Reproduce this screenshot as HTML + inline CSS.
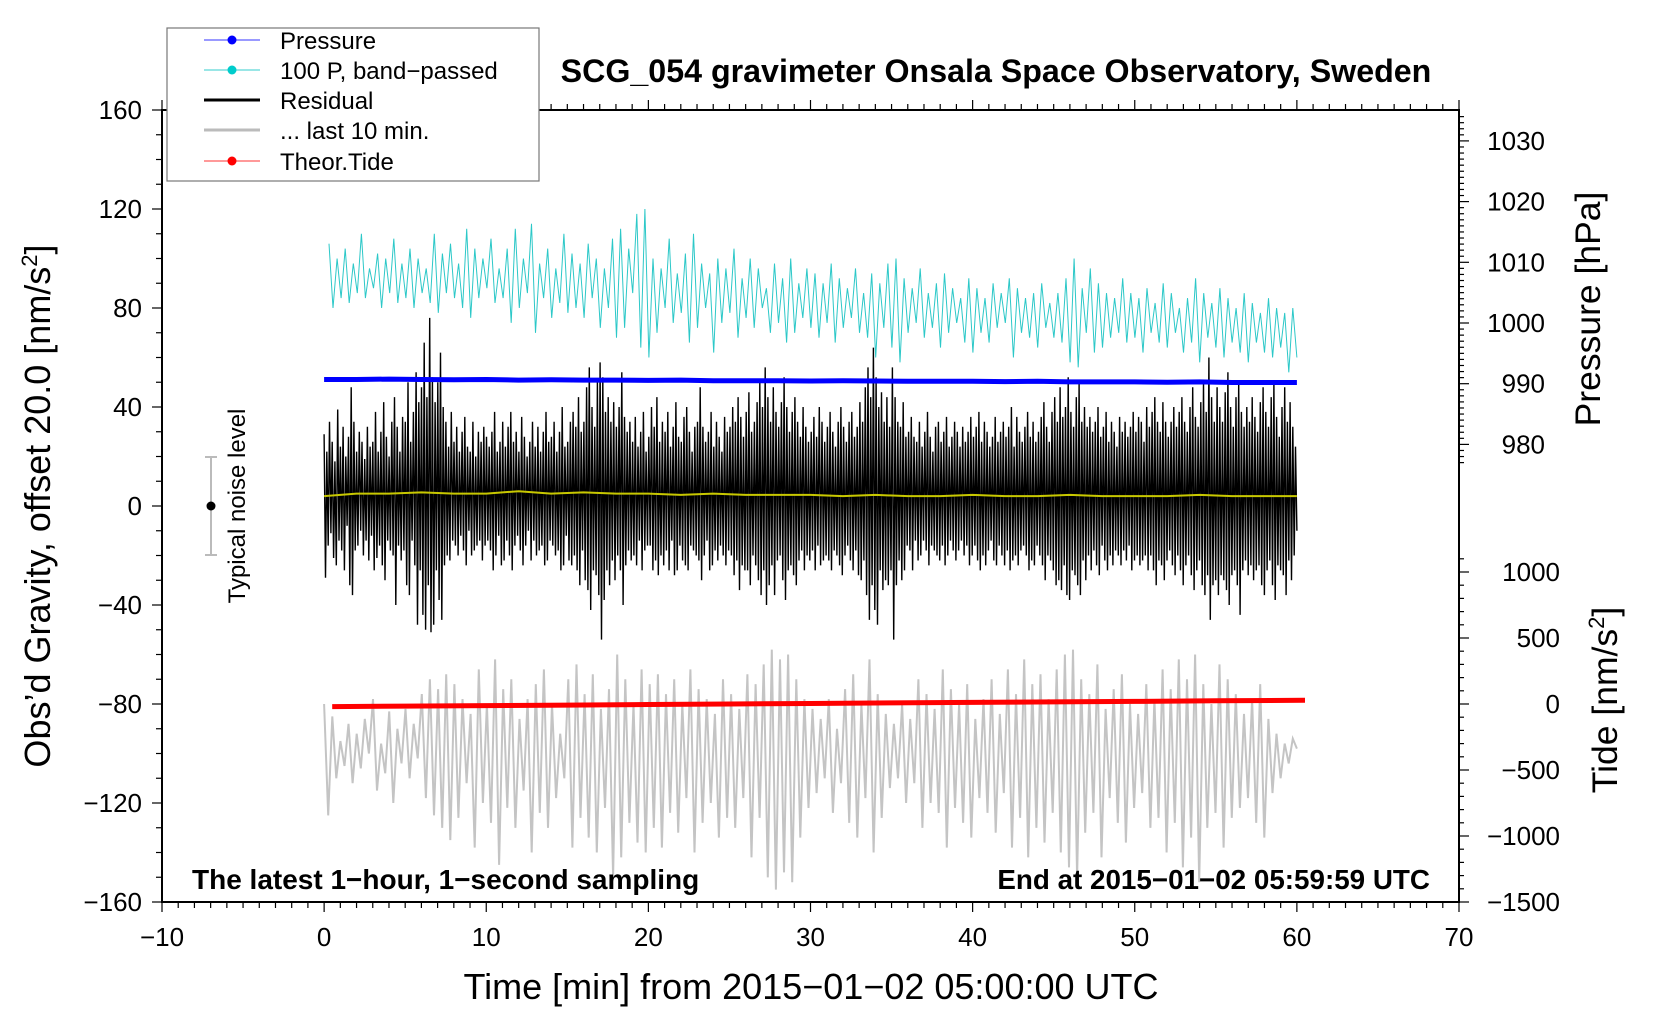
<!DOCTYPE html>
<html><head><meta charset="utf-8"><style>
html,body{margin:0;padding:0;background:#fff;}
svg{display:block;font-family:"Liberation Sans",sans-serif;}
</style></head><body>
<svg id="chart" width="1660" height="1020" viewBox="0 0 1660 1020" xmlns="http://www.w3.org/2000/svg">
<rect x="0" y="0" width="1660" height="1020" fill="#fff"/>
<g id="marks"></g>
<g id="axes"></g>
<text x="996" y="82" text-anchor="middle" font-size="32.2" font-weight="bold">SCG_054 gravimeter Onsala Space Observatory, Sweden</text>
<text x="811" y="999" text-anchor="middle" font-size="36">Time [min] from 2015−01−02 05:00:00 UTC</text>
<text transform="translate(50,506) rotate(-90)" text-anchor="middle" font-size="36">Obs’d Gravity, offset 20.0 [nm/s<tspan font-size="22" dy="-13">2</tspan><tspan dy="13">]</tspan></text>
<text transform="translate(1600,309) rotate(-90)" text-anchor="middle" font-size="35.5">Pressure [hPa]</text>
<text transform="translate(1617,700) rotate(-90)" text-anchor="middle" font-size="35.5">Tide [nm/s<tspan font-size="22" dy="-13">2</tspan><tspan dy="13">]</tspan></text>
<text x="192" y="889" font-size="28" font-weight="bold">The latest 1−hour, 1−second sampling</text>
<text x="1430" y="889" text-anchor="end" font-size="27.8" font-weight="bold">End at 2015−01−02 05:59:59 UTC</text>
<g>
<line x1="211" y1="457" x2="211" y2="555" stroke="#bbb" stroke-width="2"/>
<line x1="205" y1="457" x2="217" y2="457" stroke="#bbb" stroke-width="2"/>
<line x1="205" y1="555" x2="217" y2="555" stroke="#bbb" stroke-width="2"/>
<circle cx="211" cy="506" r="4.5" fill="#000"/>
<text transform="translate(245,506) rotate(-90)" text-anchor="middle" font-size="24">Typical noise level</text>
</g>
<g>
<rect x="167" y="28" width="372" height="153" fill="#fff" stroke="#777" stroke-width="1.2"/>
<g><line x1="204" y1="40" x2="260" y2="40" stroke="#33f" stroke-width="1"/><circle cx="232" cy="40" r="4.5" fill="#00f"/><text x="280" y="49" font-size="24">Pressure</text></g>
<g><line x1="204" y1="70" x2="260" y2="70" stroke="#3cc" stroke-width="1"/><circle cx="232" cy="70" r="4.5" fill="#0cc"/><text x="280" y="79" font-size="24">100 P, band−passed</text></g>
<g><line x1="204" y1="100" x2="260" y2="100" stroke="#000" stroke-width="3"/><text x="280" y="109" font-size="24">Residual</text></g>
<g><line x1="204" y1="130" x2="260" y2="130" stroke="#bbb" stroke-width="3"/><text x="280" y="139" font-size="24">... last 10 min.</text></g>
<g><line x1="204" y1="161" x2="260" y2="161" stroke="#f33" stroke-width="1"/><circle cx="232" cy="161" r="4.5" fill="#f00"/><text x="280" y="170" font-size="24">Theor.Tide</text></g>
</g>
</svg>
<script>
const xTicks=[-10,0,10,20,30,40,50,60,70];
const yTicks=[160,120,80,40,0,-40,-80,-120,-160];
const pressureTicks=[980,990,1000,1010,1020,1030];
const tideTicks=[-1500,-1000,-500,0,500,1000];
const residualOffset=4;
const residual=[
25,-33,18,-20,30,-15,22,-25,14,-28,35,-18,20,-22,28,-30,16,-12,24,-36,44,-40,30,-22,18,-20,26,-14,22,-24,15,-18,28,-26,20,-16,22,-30,34,-25,18,-20,26,-28,38,-34,24,-18,16,-22,30,-24,40,-44,28,-20,18,-26,32,-22,
30,-36,46,-40,22,-18,34,-28,50,-52,38,-30,44,-48,62,-54,40,-36,72,-55,48,-52,38,-30,46,-42,58,-50,36,-28,30,-24,20,-26,34,-18,22,-20,28,-24,18,-16,26,-22,32,-28,20,-14,18,-24,30,-22,16,-20,26,-18,22,-26,28,-20,
24,-18,20,-22,26,-30,34,-24,18,-16,22,-28,30,-26,20,-18,28,-24,34,-30,22,-20,26,-16,18,-22,32,-28,24,-20,16,-14,22,-26,30,-18,20,-24,28,-22,18,-20,26,-28,34,-26,22,-18,24,-20,30,-24,18,-22,26,-30,36,-28,20,-16,
22,-26,30,-28,34,-24,28,-30,40,-36,26,-22,30,-34,44,-38,52,-46,36,-30,28,-32,46,-40,54,-58,48,-42,34,-30,40,-36,30,-26,38,-34,28,-24,36,-30,50,-44,32,-28,26,-22,30,-26,22,-24,32,-28,20,-18,26,-30,34,-22,18,-20,
24,-20,36,-30,28,-26,40,-32,22,-24,30,-28,26,-22,34,-30,20,-18,28,-32,38,-30,24,-20,22,-26,32,-28,36,-30,26,-20,18,-22,28,-24,30,-26,44,-34,28,-24,22,-18,26,-30,34,-28,20,-22,30,-26,24,-20,18,-24,32,-28,26,-22,
28,-24,36,-32,30,-26,40,-38,32,-28,24,-30,34,-30,42,-36,26,-24,30,-28,38,-34,46,-40,36,-30,52,-44,40,-36,30,-28,44,-40,34,-26,28,-24,38,-34,48,-42,36,-30,26,-28,34,-32,40,-36,30,-26,24,-22,36,-30,28,-24,22,-26,
26,-22,32,-30,24,-20,36,-28,30,-26,22,-24,28,-26,34,-30,26,-22,20,-24,30,-28,36,-32,28,-24,22,-20,30,-26,34,-30,24,-22,28,-32,38,-34,30,-26,44,-40,52,-50,40,-36,60,-46,48,-52,36,-30,42,-38,30,-34,40,-36,28,-30,
52,-58,40,-36,30,-26,28,-34,38,-30,24,-20,26,-22,32,-30,24,-18,22,-26,30,-24,20,-18,26,-22,34,-28,24,-20,18,-22,28,-24,30,-26,22,-20,26,-28,32,-24,20,-18,24,-22,30,-26,26,-22,20,-18,28,-24,22,-20,26,-28,32,-24,
24,-20,28,-26,34,-30,22,-24,30,-28,26,-22,20,-18,24,-26,32,-28,22,-20,26,-24,30,-28,24,-22,28,-30,36,-26,20,-24,32,-28,26,-22,22,-20,28,-24,34,-30,24,-26,30,-28,22,-20,26,-24,32,-28,38,-34,28,-24,22,-26,34,-30,
40,-36,30,-34,44,-38,32,-28,36,-40,48,-42,34,-30,28,-32,40,-36,46,-40,30,-26,36,-34,28,-24,32,-30,26,-22,30,-28,36,-32,24,-20,28,-26,34,-30,22,-24,30,-28,26,-22,20,-24,32,-28,26,-22,30,-26,24,-20,28,-30,34,-26,
26,-24,32,-28,30,-26,22,-24,36,-30,28,-24,34,-30,40,-36,30,-26,26,-28,38,-34,30,-26,24,-22,30,-28,36,-32,28,-24,34,-30,40,-36,30,-28,26,-24,36,-32,44,-38,32,-30,28,-26,38,-36,46,-40,34,-32,56,-50,40,-36,30,-34,
44,-40,36,-32,30,-34,42,-38,50,-44,36,-32,28,-30,40,-36,46,-48,34,-30,28,-26,36,-32,30,-28,40,-34,32,-30,26,-28,38,-36,44,-40,34,-30,28,-26,40,-36,46,-42,32,-28,24,-30,36,-32,44,-40,30,-26,38,-34,28,-24,20,-14];
const runningMean=[4,5,5,5.5,5,5,6,5,5.5,5,5,4.5,5,4.5,4.5,4.5,4,4.5,4,4,4.5,4,4,4.5,4,4,4,4.5,4,4,4];
const bandPassed=[
106,80,100,84,104,82,98,86,110,84,96,88,102,80,100,86,108,82,98,84,
104,80,100,86,96,82,110,78,102,86,106,84,98,80,112,76,104,84,100,88,
108,82,96,84,104,74,112,80,100,86,114,70,98,84,104,76,96,82,110,78,
102,80,98,76,106,84,100,72,96,80,108,68,112,72,104,86,118,64,120,60,
100,70,96,80,108,74,94,78,102,66,110,72,98,80,94,62,100,74,96,78,
104,68,92,76,100,72,96,80,88,70,98,74,92,66,100,70,90,76,96,72,
94,68,90,74,98,66,92,72,88,76,96,70,86,68,94,60,90,72,98,64,
100,58,92,70,88,74,96,68,86,72,90,64,94,70,88,74,84,66,92,62,
88,70,84,66,90,72,86,74,92,60,88,70,84,68,86,64,90,72,82,68,
86,66,92,58,100,56,88,70,96,62,90,64,86,68,84,70,92,66,86,68,
84,62,88,70,82,66,90,64,86,70,80,62,84,66,92,58,86,68,82,64,
88,60,84,66,80,62,86,58,82,66,78,62,84,60,80,64,78,54,80,60];
const last10=[
-80,-125,-85,-110,-95,-105,-88,-112,-92,-106,-86,-100,-78,-115,-96,-108,-83,-120,-90,-104,
-82,-110,-88,-102,-76,-118,-70,-125,-74,-130,-68,-135,-72,-126,-78,-112,-84,-138,-66,-120,
-80,-128,-62,-145,-74,-122,-70,-130,-86,-115,-78,-140,-72,-124,-66,-130,-80,-118,-92,-110,
-70,-138,-64,-126,-76,-134,-68,-140,-82,-122,-74,-150,-60,-142,-70,-128,-80,-136,-66,-140,
-72,-130,-68,-138,-76,-124,-70,-132,-80,-118,-66,-140,-74,-128,-78,-120,-84,-134,-70,-126,
-76,-130,-82,-118,-68,-142,-72,-126,-64,-150,-58,-155,-62,-148,-60,-152,-70,-134,-78,-122,
-82,-116,-86,-110,-78,-124,-90,-112,-74,-128,-68,-134,-80,-118,-62,-140,-76,-126,-84,-114,
-88,-110,-80,-120,-86,-112,-70,-130,-76,-120,-82,-124,-66,-138,-74,-122,-80,-128,-72,-134,
-86,-118,-78,-124,-70,-132,-84,-116,-66,-138,-76,-126,-62,-142,-72,-130,-68,-136,-78,-124,
-66,-140,-60,-146,-58,-150,-70,-132,-76,-124,-64,-142,-82,-118,-74,-128,-68,-136,-80,-122,
-84,-116,-72,-130,-78,-126,-66,-140,-74,-128,-62,-146,-70,-134,-60,-152,-72,-130,-80,-124,
-64,-138,-70,-126,-76,-122,-84,-118,-78,-128,-72,-134,-86,-116,-92,-110,-96,-104,-94,-98];
const pressure=[990.7,990.7,990.75,990.7,990.65,990.7,990.6,990.65,990.6,990.6,990.55,990.6,990.5,990.5,990.5,990.45,990.5,990.45,990.4,990.4,990.4,990.35,990.4,990.3,990.3,990.3,990.25,990.3,990.2,990.2,990.2];
const tideTimes=[0.5,5,10,15,20,25,30,35,40,45,50,55,60.5];
const tide=[-20,-16,-12,-8,-4,0,4,8,12,16,20,24,28];

const X0=162,X1=1459,Y0=110,Y1=902;
const xs=t=>X0+(t+10)/80*(X1-X0);
const ys=v=>Y0+(160-v)/320*(Y1-Y0);
const ps=p=>323-(p-1000)*6.07;
const ts=v=>704-v*0.132;
const NS='http://www.w3.org/2000/svg';
const marks=document.getElementById('marks'),axes=document.getElementById('axes');
function mk(tag,attrs,parent){const e=document.createElementNS(NS,tag);for(const k in attrs)e.setAttribute(k,attrs[k]);parent.appendChild(e);return e;}
function series(vals,t0,t1){const n=vals.length;return vals.map((v,i)=>[t0+(t1-t0)*i/(n-1),v]);}
function pathOf(pts,sx,sy){return pts.map((p,i)=>(i?'L':'M')+sx(p[0]).toFixed(1)+' '+sy(p[1]).toFixed(1)).join('');}

let e;
e=mk('path',{d:pathOf(series(last10,0,60),xs,ys),fill:'none',stroke:'#c4c4c4','stroke-width':2},marks);


e=mk('path',{d:pathOf(series(bandPassed,0.3,60),xs,ys),fill:'none',stroke:'#2cc8c8','stroke-width':1},marks);


e=mk('path',{d:pathOf(series(residual.map(v=>v+residualOffset),0,60),xs,ys),fill:'none',stroke:'#000','stroke-width':1.4},marks);


e=mk('path',{d:pathOf(series(runningMean,0,60),xs,ys),fill:'none',stroke:'#c8c800','stroke-width':2},marks);


e=mk('path',{d:pathOf(series(pressure,0,60),xs,ps),fill:'none',stroke:'#0000ff','stroke-width':5},marks);


e=mk('path',{d:pathOf(tideTimes.map((t,i)=>[t,tide[i]]),xs,ts),fill:'none',stroke:'#ff0000','stroke-width':5},marks);



e=mk('rect',{x:X0,y:Y0,width:X1-X0,height:Y1-Y0,fill:'none',stroke:'#000','stroke-width':2},axes);


for(let t=-10;t<=70;t++){const x=xs(t),big=t%10===0;
 mk('line',{x1:x,y1:Y1,x2:x,y2:Y1+(big?10:6),stroke:'#000','stroke-width':1.2},axes);
 mk('line',{x1:x,y1:Y0,x2:x,y2:Y0-(big?10:6),stroke:'#000','stroke-width':1.2},axes);}
xTicks.forEach(t=>{const l=mk('text',{x:xs(t),y:946,'text-anchor':'middle','font-size':26},axes);l.textContent=String(t).replace('-','−');
 
 });
for(let v=-160;v<=160;v+=10){const y=ys(v),big=v%40===0;mk('line',{x1:X0,y1:y,x2:X0-(big?10:6),y2:y,stroke:'#000','stroke-width':1.2},axes);}
yTicks.forEach(v=>{const l=mk('text',{x:X0-20,y:ys(v)+9,'text-anchor':'end','font-size':26},axes);l.textContent=String(v).replace('-','−');
 
 });
for(let p=977;p<=1034;p++){const y=ps(p),big=p%10===0;mk('line',{x1:X1,y1:y,x2:X1+(big?10:5),y2:y,stroke:'#000','stroke-width':1.2},axes);}
pressureTicks.forEach(p=>{const l=mk('text',{x:1545,y:ps(p)+9,'text-anchor':'end','font-size':26},axes);l.textContent=p;
 
 });
for(let v=-1500;v<=1100;v+=100){const y=ts(v),big=v%500===0;mk('line',{x1:X1,y1:y,x2:X1+(big?10:5),y2:y,stroke:'#000','stroke-width':1.2},axes);}
tideTicks.forEach(v=>{const l=mk('text',{x:1560,y:ts(v)+9,'text-anchor':'end','font-size':26},axes);l.textContent=String(v).replace('-','−');
 
 });
</script>
</body></html>
